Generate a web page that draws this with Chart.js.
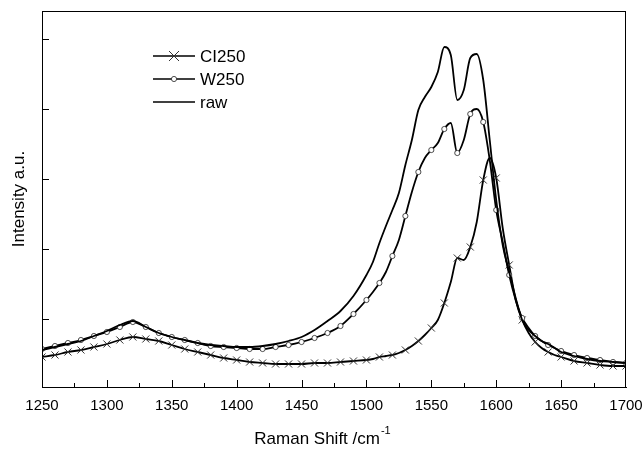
<!DOCTYPE html>
<html>
<head>
<meta charset="utf-8">
<script src="https://cdn.jsdelivr.net/npm/chart.js@4.4.0/dist/chart.umd.min.js"></script>
<style>
  body { margin: 0; background: #fff; }
  #wrap { width: 643px; height: 450px; }
</style>
</head>
<body>
<div id="wrap"><canvas id="ramanChart" width="643" height="450"></canvas></div>
<script>
// Raman shift (cm-1) and intensities (a.u.)
const shift = [1250, 1260, 1270, 1280, 1290, 1300, 1310, 1320, 1330, 1340,
    1350, 1360, 1370, 1380, 1390, 1400, 1410, 1420, 1430, 1440,
    1450, 1460, 1470, 1480, 1490, 1500,
    1505, 1510, 1515, 1520, 1525, 1530, 1535, 1540, 1545, 1550,
    1555, 1560, 1565, 1570, 1575, 1580, 1585, 1590, 1595, 1600,
    1605, 1610, 1615, 1620, 1625, 1630, 1635, 1640, 1645, 1650,
    1660, 1670, 1680, 1690, 1700];

const raw = [39, 42, 45, 48, 53, 58, 64, 68, 62, 56,
    52, 49, 46, 44, 43, 42, 42, 43, 45, 48,
    52, 59, 68, 78, 93, 114,
    127, 146, 163, 179, 196, 224, 249, 279, 292, 302,
    317, 342, 334, 289, 299, 331, 335, 309, 249, 189,
    144, 117, 91, 69, 59, 53, 48, 45, 41, 37,
    33, 30, 28, 27, 26];

const w250 = [40, 43, 46, 49, 53, 57, 62, 67, 62, 56,
    52, 49, 46, 43, 42, 41, 40, 40, 42, 44,
    47, 51, 56, 63, 75, 89,
    97, 106, 117, 133, 149, 173, 197, 217, 231, 239,
    246, 260, 266, 236, 249, 275, 280, 267, 229, 179,
    147, 114, 89, 71, 61, 53, 48, 44, 41, 38,
    34, 31, 29, 27, 26];

const ci250 = [32, 34, 37, 39, 42, 45, 49, 52, 50, 48,
    44, 40, 37, 34, 31, 29, 27, 26, 25, 25,
    25, 26, 26, 27, 28, 29,
    30, 32, 33, 34, 36, 39, 43, 48, 54, 61,
    69, 86, 107, 131, 129, 142, 167, 209, 231, 211,
    161, 124, 89, 69, 56, 47, 41, 37, 34, 32,
    28, 26, 24, 23, 23];

const yTicks = [70, 140, 210, 280, 350];
const FONT = '"Liberation Sans", Arial, sans-serif';

function toPoints(values) {
    return shift.map((x, i) => ({ x: x, y: values[i] }));
}

// marker only every 10 cm-1, like the original plot
function markerRadius(r) {
    return ctx => (ctx.raw && ctx.raw.x % 10 === 0) ? r : 0;
}

function drawMarker(ctx, style, x, y) {
    ctx.save();
    if (style === 'crossRot') {
        ctx.strokeStyle = '#333';
        ctx.lineWidth = 1;
        ctx.beginPath();
        ctx.moveTo(x - 5, y - 5); ctx.lineTo(x + 5, y + 5);
        ctx.moveTo(x - 5, y + 5); ctx.lineTo(x + 5, y - 5);
        ctx.stroke();
    } else if (style === 'circle') {
        ctx.fillStyle = '#fff';
        ctx.strokeStyle = '#222';
        ctx.lineWidth = 0.8;
        ctx.beginPath();
        ctx.arc(x, y, 2.6, 0, Math.PI * 2);
        ctx.fill();
        ctx.stroke();
    }
    ctx.restore();
}

const decorPlugin = {
    id: 'decor',
    afterDatasetsDraw(chart) {
        const { ctx, chartArea: a, scales } = chart;
        const x = scales.x, y = scales.y;
        ctx.save();
        ctx.strokeStyle = '#000';
        ctx.lineWidth = 1;
        // frame
        ctx.strokeRect(a.left + 0.5, a.top + 0.5, a.right - a.left - 1, a.bottom - a.top);

        // inward ticks on the bottom axis
        ctx.beginPath();
        for (let v = 1275; v < 1700; v += 25) {
            const px = Math.round(x.getPixelForValue(v)) + 0.5;
            const len = v % 50 === 0 ? 7 : 4;
            ctx.moveTo(px, a.bottom);
            ctx.lineTo(px, a.bottom - len);
        }
        // inward ticks on the left axis
        yTicks.forEach(v => {
            const py = Math.round(y.getPixelForValue(v)) + 0.5;
            ctx.moveTo(a.left, py);
            ctx.lineTo(a.left + 7, py);
        });
        ctx.stroke();

        // legend
        const items = [
            { label: chart.data.datasets[2].label, style: 'crossRot', y: 56 },
            { label: chart.data.datasets[1].label, style: 'circle', y: 79 },
            { label: chart.data.datasets[0].label, style: null, y: 102 }
        ];
        ctx.font = '17px ' + FONT;
        ctx.fillStyle = '#000';
        ctx.textBaseline = 'middle';
        ctx.textAlign = 'left';
        items.forEach(it => {
            ctx.strokeStyle = '#000';
            ctx.lineWidth = 1.6;
            ctx.beginPath();
            ctx.moveTo(153, it.y);
            ctx.lineTo(195, it.y);
            ctx.stroke();
            if (it.style) drawMarker(ctx, it.style, 174, it.y);
            ctx.fillText(it.label, 200, it.y + 1);
        });

        // x title with superscript
        const main = 'Raman Shift /cm';
        const sup = '-1';
        ctx.font = '17px ' + FONT;
        const wMain = ctx.measureText(main).width;
        ctx.font = '11px ' + FONT;
        const wSup = ctx.measureText(sup).width;
        const cx = 322;
        const startX = cx - (wMain + wSup) / 2;
        ctx.textBaseline = 'alphabetic';
        ctx.font = '17px ' + FONT;
        ctx.fillText(main, startX, 444);
        ctx.font = '11px ' + FONT;
        ctx.fillText(sup, startX + wMain + 1, 434);

        // y title
        ctx.save();
        ctx.translate(24, (a.top + a.bottom) / 2);
        ctx.rotate(-Math.PI / 2);
        ctx.textAlign = 'center';
        ctx.font = '17px ' + FONT;
        ctx.fillText('Intensity a.u.', 0, 0);
        ctx.restore();

        ctx.restore();
    }
};

let ramanChart = null;

function buildChart() {
    const el = document.getElementById('ramanChart');
    ramanChart = new Chart(el, {
        type: 'line',
        data: {
            datasets: [
                {
                    label: 'raw',
                    data: toPoints(raw),
                    borderColor: '#000',
                    borderWidth: 1.8,
                    pointRadius: 0,
                    cubicInterpolationMode: 'monotone'
                },
                {
                    label: 'W250',
                    data: toPoints(w250),
                    borderColor: '#000',
                    borderWidth: 1.8,
                    pointStyle: 'circle',
                    pointRadius: markerRadius(2.6),
                    pointBackgroundColor: '#fff',
                    pointBorderColor: '#222',
                    pointBorderWidth: 0.8,
                    cubicInterpolationMode: 'monotone'
                },
                {
                    label: 'CI250',
                    data: toPoints(ci250),
                    borderColor: '#000',
                    borderWidth: 1.8,
                    pointStyle: 'crossRot',
                    pointRadius: markerRadius(5),
                    pointBorderColor: '#333',
                    pointBorderWidth: 1,
                    cubicInterpolationMode: 'monotone'
                }
            ]
        },
        options: {
            responsive: false,
            animation: false,
            events: [],
            layout: { padding: { top: 11, right: 17, left: 0, bottom: 0 } },
            plugins: {
                legend: { display: false },
                tooltip: { enabled: false }
            },
            scales: {
                x: {
                    type: 'linear',
                    min: 1250,
                    max: 1700,
                    grid: { display: false, drawTicks: false },
                    border: { display: true, color: '#000', width: 1 },
                    ticks: {
                        stepSize: 50,
                        autoSkip: false,
                        maxRotation: 0,
                        padding: 10,
                        color: '#000',
                        font: { family: FONT, size: 15 },
                        callback: v => String(v)
                    },
                    afterFit(scale) {
                        scale.height = 63;
                        scale.paddingLeft = 0;
                        scale.paddingRight = 0;
                    }
                },
                y: {
                    type: 'linear',
                    min: 2,
                    max: 378,
                    grid: { display: false, drawTicks: false },
                    border: { display: true, color: '#000', width: 1 },
                    ticks: { display: false },
                    afterFit(scale) { scale.width = 42; }
                }
            }
        },
        plugins: [decorPlugin]
    });
}

buildChart();
</script>
</body>
</html>
